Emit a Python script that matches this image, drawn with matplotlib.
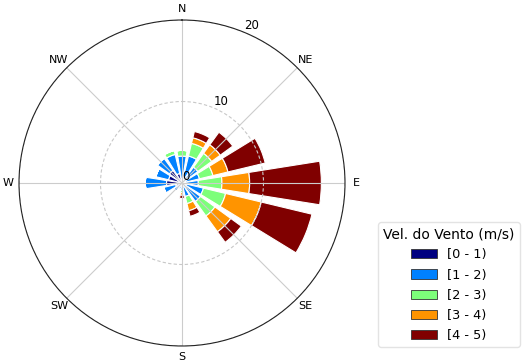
import numpy as np
import matplotlib
matplotlib.use("Agg")
import matplotlib.pyplot as plt
from matplotlib.patches import Patch

# Frequência (%) por direção e classe de velocidade
direcoes = ["N", "NNE", "NE", "ENE", "E", "ESE", "SE", "SSE",
            "S", "SSW", "SW", "WSW", "W", "WNW", "NW", "NNW"]
classes = ["[0 - 1)", "[1 - 2)", "[2 - 3)", "[3 - 4)", "[4 - 5)"]

vel_0_1 = [0.5, 0.5, 0.4, 0.4, 0.4, 0.5, 0.5, 0.3, 0.3, 0.3, 0.4, 0.8, 1.9, 1.7, 1.9, 1.2]
vel_1_2 = [2.8, 2.9, 2.0, 1.8, 1.6, 2.2, 2.3, 1.4, 0.6, 0.5, 0.8, 1.5, 2.6, 1.6, 1.8, 2.4]
vel_2_3 = [0.7, 1.6, 2.1, 1.7, 2.9, 2.8, 2.2, 0.9, 0.3, 0.1, 0.0, 0.0, 0.0, 0.0, 0.1, 0.5]
vel_3_4 = [0.0, 0.7, 1.3, 1.9, 3.4, 4.5, 2.4, 0.9, 0.3, 0.0, 0.0, 0.0, 0.0, 0.0, 0.0, 0.0]
vel_4_5 = [0.0, 0.8, 1.9, 4.7, 8.8, 6.4, 1.6, 0.7, 0.4, 0.0, 0.0, 0.0, 0.0, 0.0, 0.0, 0.0]

cores = plt.cm.jet(np.linspace(0, 1, 5))

fig = plt.figure(figsize=(5.25, 3.61), dpi=100)
ax = fig.add_axes([19 / 525, 15 / 361, 326 / 525, 326 / 361], projection="polar")
ax.set_theta_zero_location("N")
ax.set_theta_direction(-1)

n = len(direcoes)
angulos = np.arange(n) * 2 * np.pi / n
largura = 2 * np.pi / n * 0.8

base = np.zeros(n)
for valores, cor in zip([vel_0_1, vel_1_2, vel_2_3, vel_3_4, vel_4_5], cores):
    valores = np.array(valores)
    ax.bar(angulos, valores, width=largura, bottom=base, color=cor,
           edgecolor="white", linewidth=0.8)
    base = base + valores

ax.set_ylim(0, 20)
ax.set_yticks([0, 10, 20])
ax.set_yticklabels(["0", "10", "20"], fontsize=8.5)
ax.set_rlabel_position(22.5)

ax.set_xticks(np.deg2rad(np.arange(0, 360, 45)))
ax.set_xticklabels(["N", "NE", "E", "SE", "S", "SW", "W", "NW"], fontsize=8)
ax.tick_params(axis="x", pad=-2.5)

ax.xaxis.grid(True, color="#cccccc", linewidth=0.8, linestyle="-")
ax.yaxis.grid(True, color="#c8c8c8", linewidth=0.8, linestyle=(0, (3, 2)))
ax.spines["polar"].set_linewidth(0.8)
ax.spines["polar"].set_color("#222222")

handles = [Patch(facecolor=c, edgecolor="#333333", linewidth=0.6) for c in cores]
fig.legend(handles, classes, title="Vel. do Vento (m/s)", loc="lower right",
           bbox_to_anchor=(520 / 525, 14 / 361), borderaxespad=0,
           fontsize=9.3, title_fontsize=10, labelspacing=0.55,
           frameon=True, edgecolor="#dddddd")

fig.savefig("out.png", dpi=100)
